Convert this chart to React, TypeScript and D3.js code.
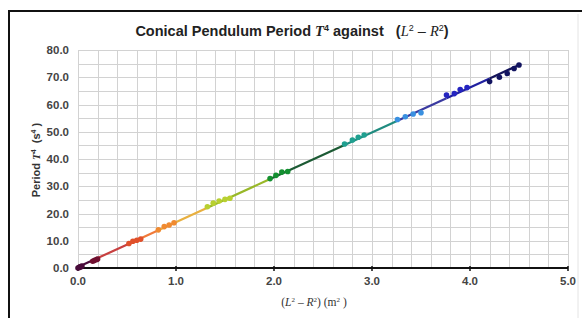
import React from "react";
import * as d3 from "d3";

// groups of readings, one colour each
const groupColors = ["#4a0c3c", "#701030", "#e0502a", "#f08a30", "#b8d030", "#139030", "#20a090", "#3a90e0", "#2424c0", "#121460"];
const lineColors = ["#4a0c3c", "#c84040", "#f07a3a", "#e8b040", "#98b828", "#1c5a34", "#208c80", "#3a3aa0", "#2020a0", "#14145a"];
const groupX = [
  [0.0, 0.01, 0.02, 0.03, 0.04],
  [0.15, 0.17, 0.19, 0.2],
  [0.52, 0.56, 0.6, 0.64],
  [0.82, 0.88, 0.93, 0.98],
  [1.32, 1.38, 1.44, 1.5, 1.55],
  [1.96, 2.02, 2.08, 2.14],
  [2.72, 2.8, 2.86, 2.92],
  [3.26, 3.34, 3.42, 3.5],
  [3.76, 3.84, 3.9, 3.97],
  [4.2, 4.3, 4.38, 4.45, 4.5],
];
const groupY = [
  [0.0, 0.2, 0.4, 0.5, 0.7],
  [2.5, 2.8, 3.1, 3.3],
  [9.0, 9.8, 10.2, 10.6],
  [14.0, 15.2, 15.8, 16.6],
  [22.5, 23.8, 24.6, 25.2, 25.6],
  [32.8, 34.0, 35.2, 35.4],
  [45.5, 47.0, 48.0, 48.8],
  [54.5, 55.5, 56.5, 57.0],
  [63.5, 64.0, 65.5, 66.2],
  [68.4, 70.0, 71.4, 73.2, 74.5],
];
const xTicks = [0, 1, 2, 3, 4, 5];
const yTicks = [0, 10, 20, 30, 40, 50, 60, 70, 80];

export default function App() {
  const W = 582, H = 318;
  const m = { left: 78, right: 14, top: 50, bottom: 50 };
  const x = d3.scaleLinear().domain([0, 5]).range([m.left, W - m.right]);
  const y = d3.scaleLinear().domain([0, 80]).range([H - m.bottom, m.top]);

  // least squares fit through all readings
  const xs = groupX.flat(), ys = groupY.flat();
  const mx = d3.mean(xs)!, my = d3.mean(ys)!;
  const slope = d3.sum(xs, (v, i) => (v - mx) * (ys[i] - my)) / d3.sum(xs, v => (v - mx) ** 2);
  const icpt = my - slope * mx;
  const fit = (v: number) => Math.max(0, slope * v + icpt);

  const xMinor = d3.range(0, 5.0001, 0.2);
  const yMinor = d3.range(0, 80.0001, 5);
  const font = "'Liberation Sans', Arial, sans-serif";
  const serif = "'Liberation Serif', 'Times New Roman', serif";

  return (
    <svg width={W} height={H} style={{ position: "absolute", left: 0, top: 0, background: "#fff" }}>
      <path d={`M9,${H} V11 H${W}`} fill="none" stroke="#111" strokeWidth={2} />
      <line x1={578} x2={578} y1={14} y2={H} stroke="#e4e4e4" />
      <text x={292} y={36} textAnchor="middle" fontFamily={font} fontWeight="bold" fontSize={14.5} fill="#222" xmlSpace="preserve">
        Conical Pendulum Period <tspan fontFamily={serif} fontStyle="italic">T</tspan>
        <tspan fontSize={9} dy={-5}>4</tspan><tspan dy={5}> against   (</tspan>
        <tspan fontFamily={serif} fontStyle="italic" fontWeight="normal">L</tspan><tspan fontSize={9} dy={-5} fontWeight="normal">2</tspan>
        <tspan dy={5} fontWeight="normal"> – </tspan>
        <tspan fontFamily={serif} fontStyle="italic" fontWeight="normal">R</tspan><tspan fontSize={9} dy={-5} fontWeight="normal">2</tspan>
        <tspan dy={5}>)</tspan>
      </text>
      <g stroke="#d2d2d2" strokeWidth={1}>
        {xMinor.map(v => (
          <line key={"gx" + v} x1={Math.round(x(v)) + 0.5} x2={Math.round(x(v)) + 0.5} y1={y(80)} y2={y(0)} />
        ))}
        {yMinor.map(v => (
          <line key={"gy" + v} x1={x(0)} x2={x(5)} y1={Math.round(y(v)) + 0.5} y2={Math.round(y(v)) + 0.5} />
        ))}
      </g>
      <line x1={x(0)} x2={x(5)} y1={y(0)} y2={y(0)} stroke="#111" strokeWidth={2} />
      {xTicks.map(v => (
        <g key={"xt" + v}>
          <line x1={x(v)} x2={x(v)} y1={y(0) - 2} y2={y(0) + 3} stroke="#111" strokeWidth={1.5} />
          <text x={x(v)} y={y(0) + 17} textAnchor="middle" fontFamily={font} fontWeight="bold" fontSize={11.5} fill="#444">
            {v.toFixed(1)}
          </text>
        </g>
      ))}
      {yTicks.map(v => (
        <text key={"yt" + v} x={x(0) - 9} y={y(v) + 4} textAnchor="end" fontFamily={font} fontWeight="bold" fontSize={11.5} fill="#444">
          {v.toFixed(1)}
        </text>
      ))}
      {groupX.map((gx, i) => {
        const x0 = gx[0];
        const x1 = i < groupX.length - 1 ? groupX[i + 1][0] : gx[gx.length - 1];
        return (
          <line key={"fl" + i} x1={x(x0)} y1={y(fit(x0))} x2={x(x1)} y2={y(fit(x1))}
            stroke={lineColors[i]} strokeWidth={2.2} />
        );
      })}
      {groupX.map((gx, i) =>
        gx.map((v, j) => (
          <circle key={`p${i}-${j}`} cx={x(v)} cy={y(groupY[i][j])} r={2.8} fill={groupColors[i]} />
        ))
      )}
      <text transform={`translate(40,160) rotate(-90)`} textAnchor="middle"
        fontFamily={font} fontWeight="bold" fontSize={11} fill="#333" xmlSpace="preserve">
        Period <tspan fontFamily={serif} fontStyle="italic">T</tspan><tspan fontSize={7} dy={-4}>4</tspan>
        <tspan dy={4}>  (s</tspan><tspan fontSize={7} dy={-4}>4</tspan><tspan dy={4}> )</tspan>
      </text>
      <text x={314} y={306} textAnchor="middle" fontFamily={serif} fontSize={11.5} fill="#333" xmlSpace="preserve">
        (<tspan fontStyle="italic">L</tspan><tspan fontSize={7} dy={-4}>2</tspan><tspan dy={4}> – </tspan>
        <tspan fontStyle="italic">R</tspan><tspan fontSize={7} dy={-4}>2</tspan><tspan dy={4}>) (m</tspan>
        <tspan fontSize={7} dy={-4}>2</tspan><tspan dy={4}> )</tspan>
      </text>
    </svg>
  );
}
